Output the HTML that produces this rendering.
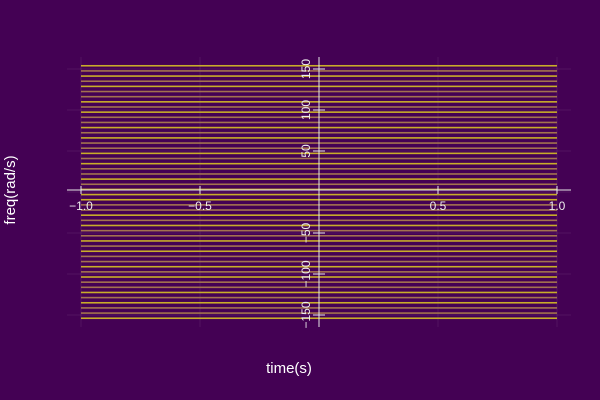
<!DOCTYPE html>
<html><head><meta charset="utf-8"><style>
body{margin:0;background:#440154;}
svg{display:block;font-family:"Liberation Sans","DejaVu Sans",sans-serif;}
</style></head><body>
<svg id="chart" width="600" height="400">
<rect width="600" height="400" fill="#440154"/>
<g id="grid"></g>
<g id="rows"></g>
<g id="axes"></g>
<text x="289" y="373" fill="#ffffff" font-size="15" text-anchor="middle">time(s)</text>
<text transform="translate(15,190) rotate(-90)" fill="#ffffff" font-size="15" text-anchor="middle">freq(rad/s)</text>
</svg>
<script>
const xTicks=[-1.0,-0.5,0.5,1.0];
const xTickLabels=["\u22121.0","\u22120.5","0.5","1.0"];
const yTicks=[-150,-100,-50,50,100,150];
const yTickLabels=["\u2212150","\u2212100","\u221250","50","100","150"];
const rowLevels=[1,0,0,1,0,1,0,0,1,0,1,0,0,1,0,1,0,0,1,0,1,0,0,1,1,1,0,1,0,0,1,0,1,0,0,1,0,1,0,0,1,0,1,0,0,1,0,1,0,1];
const rowStep=2*Math.PI;
const NS="http://www.w3.org/2000/svg";
const X0=81,X1=557,Y0=192,YS=0.82;
const sx=v=>X0+(v+1)/2*(X1-X0);
const sy=v=>Y0-v*YS;
function mk(tag,attrs,parent){const e=document.createElementNS(NS,tag);for(const k in attrs)e.setAttribute(k,attrs[k]);parent.appendChild(e);return e;}
const grid=document.getElementById('grid'),rows=document.getElementById('rows'),axes=document.getElementById('axes');
[-1,-0.5,0,0.5,1].forEach(t=>{const l=mk('line',{x1:sx(t),x2:sx(t),y1:57,y2:327,stroke:'#ffffff','stroke-opacity':0.08},grid);

});
[-150,-100,-50,0,50,100,150].forEach(t=>{const l=mk('line',{x1:67,x2:571,y1:sy(t),y2:sy(t),stroke:'#ffffff','stroke-opacity':0.08},grid);

});
const n=rowLevels.length;
rowLevels.forEach((v,i)=>{const f=(i-n/2+0.5)*rowStep;
const r=mk('rect',{x:X0,width:X1-X0,y:sy(f)-0.8,height:1.6,fill:v?'#c8ac2a':'#a3724f'},rows);

});
const xa=mk('line',{x1:67,x2:571,y1:190,y2:190,stroke:'#e6e6e6','stroke-width':1},axes);


const ya=mk('line',{x1:319,x2:319,y1:57,y2:327,stroke:'#e6e6e6','stroke-width':1},axes);


xTicks.forEach((t,i)=>{const l=mk('line',{x1:sx(t),x2:sx(t),y1:186,y2:194,stroke:'#eeeeee'},axes);


const tx=mk('text',{x:sx(t),y:210,fill:'#eeeeee','font-size':12,'text-anchor':'middle'},axes);tx.textContent=xTickLabels[i];

});
yTicks.forEach((t,i)=>{const l=mk('line',{x1:313,x2:325,y1:sy(t),y2:sy(t),stroke:'#eeeeee'},axes);


const tx=mk('text',{transform:`translate(310,${sy(t)}) rotate(-90)`,fill:'#eeeeee','font-size':12,'text-anchor':'middle'},axes);tx.textContent=yTickLabels[i];

});
</script>
</body></html>
